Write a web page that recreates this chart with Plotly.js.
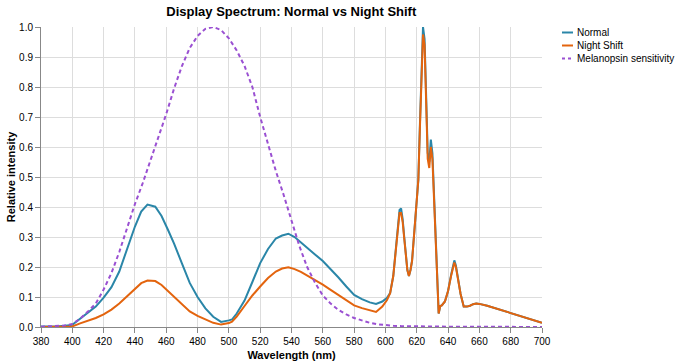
<!DOCTYPE html>
<html>
<head>
<meta charset="utf-8">
<script src="https://cdn.plot.ly/plotly-3.0.1.min.js"></script>
<style>html,body{margin:0;padding:0;background:#fff;}#chart{width:680px;height:364px;}</style>
</head>
<body>
<div id="chart"></div>
<script>
var wavelengths = [380,390,400,405,410,415,420,425,430,435,440,444,448,453,457,461,465,470,475,480,485,490,495,500,502,505,510,515,520,525,530,534,538,542,546,550,555,560,565,570,575,580,585,590,594,598,601,603,605,607,609,610,611,612,613,614,615,616,617,618,619,620,621,622,623,624,625,626,627,628,629,630,631,632,633,634,635,636,638,640,642,644,645,646,648,650,652,654,656,658,660,665,670,675,680,685,690,695,700];
var normal = [0.002,0.002,0.007,0.028,0.047,0.068,0.098,0.133,0.185,0.26,0.335,0.385,0.408,0.401,0.37,0.325,0.278,0.212,0.147,0.1,0.062,0.034,0.017,0.022,0.025,0.045,0.088,0.15,0.213,0.26,0.295,0.305,0.311,0.3,0.283,0.265,0.242,0.22,0.193,0.165,0.135,0.107,0.093,0.082,0.077,0.085,0.097,0.113,0.17,0.28,0.39,0.395,0.36,0.3,0.24,0.19,0.17,0.19,0.22,0.29,0.36,0.42,0.49,0.67,0.84,1.0,0.96,0.78,0.58,0.55,0.625,0.58,0.45,0.3,0.15,0.045,0.07,0.072,0.085,0.12,0.175,0.222,0.205,0.175,0.11,0.068,0.068,0.071,0.076,0.078,0.077,0.071,0.063,0.056,0.048,0.04,0.031,0.023,0.014];
var nightShift = [0.0,0.0,0.002,0.012,0.02,0.03,0.042,0.058,0.078,0.103,0.128,0.146,0.155,0.153,0.14,0.12,0.1,0.075,0.052,0.037,0.025,0.014,0.008,0.013,0.018,0.035,0.07,0.105,0.135,0.163,0.185,0.195,0.199,0.193,0.184,0.172,0.156,0.141,0.124,0.106,0.087,0.072,0.063,0.055,0.05,0.068,0.09,0.113,0.17,0.275,0.38,0.38,0.35,0.295,0.235,0.19,0.17,0.19,0.22,0.29,0.36,0.42,0.49,0.66,0.82,0.975,0.94,0.76,0.56,0.53,0.6,0.56,0.44,0.29,0.15,0.045,0.07,0.072,0.085,0.12,0.172,0.215,0.2,0.172,0.11,0.068,0.068,0.071,0.076,0.078,0.077,0.071,0.063,0.056,0.048,0.04,0.031,0.023,0.014];
var melWavelengths = [380,385,390,395,400,405,410,415,420,425,430,435,440,445,450,455,460,465,470,475,480,485,490,495,500,505,510,515,520,525,530,535,540,545,550,555,560,565,570,575,580,585,590,595,600,605,610,620,640,660,680,700];
var melanopsin = [0.001,0.002,0.003,0.005,0.01,0.028,0.052,0.078,0.125,0.18,0.25,0.33,0.41,0.48,0.555,0.635,0.71,0.795,0.87,0.93,0.97,0.994,1.0,0.99,0.962,0.922,0.87,0.8,0.7,0.61,0.52,0.44,0.355,0.27,0.2,0.148,0.105,0.078,0.057,0.042,0.03,0.021,0.014,0.009,0.006,0.004,0.003,0.002,0.001,0.001,0.0,0.0];
var seriesNames = ["Normal", "Night Shift", "Melanopsin sensitivity"];
var seriesColors = ["#2a86a8", "#e3640e", "#9a50d2"];
var seriesDash = ["solid", "solid", "4px,3px"];
var xTicks = [380,400,420,440,460,480,500,520,540,560,580,600,620,640,660,680,700];

var FONT = "Liberation Sans, Arial, Helvetica, sans-serif";
var traces = [
  {x: wavelengths, y: normal, name: seriesNames[0], mode: "lines", line: {color: seriesColors[0], width: 2, dash: seriesDash[0]}},
  {x: wavelengths, y: nightShift, name: seriesNames[1], mode: "lines", line: {color: seriesColors[1], width: 2, dash: seriesDash[1]}},
  {x: melWavelengths, y: melanopsin, name: seriesNames[2], mode: "lines", line: {color: seriesColors[2], width: 2, dash: seriesDash[2]}}
];

// custom legend (paper coords relative to plot area: l=41, width 501, top=27, height 300)
var L = 41, W = 501, T = 27, H = 300;
function px(x){ return (x - L) / W; }
function py(y){ return (T + H - y) / H; }
var shapes = [], annotations = [];
for (var i = 0; i < seriesNames.length; i++) {
  var yy = 32.5 + 13 * i;
  shapes.push({type: "line", xref: "paper", yref: "paper", x0: px(562), x1: px(573), y0: py(yy), y1: py(yy),
    line: {color: seriesColors[i], width: 2, dash: seriesDash[i] === "solid" ? "solid" : "3px,3px"}});
  annotations.push({xref: "paper", yref: "paper", x: px(575), y: py(yy), xanchor: "left", yanchor: "middle",
    text: seriesNames[i], showarrow: false, font: {family: FONT, size: 10, color: "#000"}});
}

var layout = {
  width: 680, height: 364,
  margin: {l: 41, r: 138, t: 27, b: 37, pad: 0},
  paper_bgcolor: "#fff", plot_bgcolor: "#fff",
  font: {family: FONT, size: 10, color: "#000"},
  showlegend: false,
  title: {text: "<b>Display Spectrum: Normal vs Night Shift</b>", font: {family: FONT, size: 13, color: "#000"},
    x: px(291.3), xref: "paper", xanchor: "center", y: 1 - 11/364, yref: "container", yanchor: "middle"},
  xaxis: {
    range: [380, 700], tickvals: xTicks, ticktext: xTicks.map(String),
    showgrid: true, gridcolor: "#ddd", gridwidth: 1, zeroline: false,
    showline: true, linecolor: "#888", linewidth: 1,
    ticks: "outside", ticklen: 5, tickcolor: "#888", tickwidth: 1,
    tickfont: {family: FONT, size: 10, color: "#000"},
    title: {text: "<b>Wavelength (nm)</b>", font: {family: FONT, size: 11, color: "#000"}, standoff: 5},
    automargin: false, fixedrange: true
  },
  yaxis: {
    range: [0, 1], dtick: 0.1, tick0: 0, tickformat: ".1f",
    showgrid: true, gridcolor: "#ddd", gridwidth: 1, zeroline: false,
    showline: true, linecolor: "#888", linewidth: 1,
    ticks: "outside", ticklen: 5, tickcolor: "#888", tickwidth: 1,
    tickfont: {family: FONT, size: 10, color: "#000"},
    title: {text: "<b>Relative intensity</b>", font: {family: FONT, size: 11, color: "#000"}, standoff: 1},
    automargin: false, fixedrange: true
  },
  shapes: shapes,
  annotations: annotations
};

Plotly.newPlot("chart", traces, layout, {displayModeBar: false, staticPlot: true});
</script>
</body>
</html>
